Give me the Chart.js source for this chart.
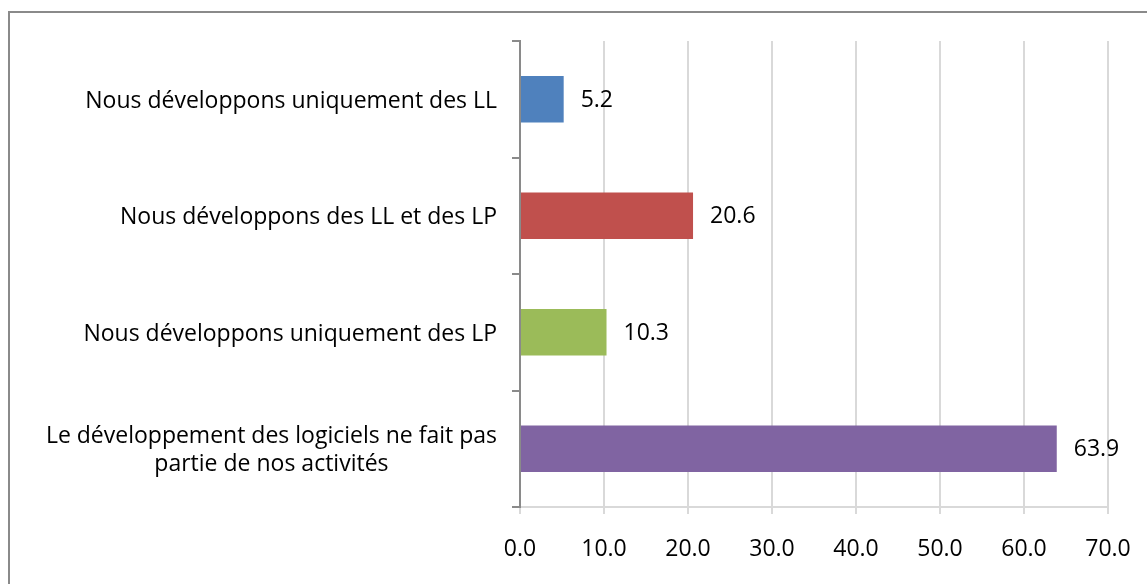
<!DOCTYPE html>
<html lang="fr">
<head>
<meta charset="utf-8">
<title>Développement de logiciels</title>
<script src="https://cdn.jsdelivr.net/npm/chart.js@4"></script>
<style>
    html, body { margin: 0; padding: 0; background: #fff; overflow: hidden; }
    .cadre {
        position: absolute;
        left: 8px; top: 11px;
        width: 1300px; height: 700px;
        border: 2px solid #8a8a8a;
    }
    #chart { position: absolute; left: 0; top: 0; }
</style>
</head>
<body>
<div class="cadre"></div>
<canvas id="chart" width="1147" height="584"></canvas>
<script>
// Données
const categories = [
    'Nous développons uniquement des LL',
    'Nous développons des LL et des LP',
    'Nous développons uniquement des LP',
    ['Le développement des logiciels ne fait pas', 'partie de nos activités']
];
const valeurs = [5.2, 20.6, 10.3, 63.9];
const ticksX = [0, 10, 20, 30, 40, 50, 60, 70];

const couleurs = ['#4f81bd', '#c0504d', '#9bbb59', '#8064a2'];
const police = '"Open Sans", "DejaVu Sans", sans-serif';
const taille = 23;

// Étiquettes de l'axe Y (lignes centrées entre elles, bloc aligné à droite)
const etiquettesY = {
    id: 'etiquettesY',
    afterDraw(chart) {
        const ctx = chart.ctx;
        const y = chart.scales.y;
        const droite = chart.chartArea.left - 23;
        const interligne = 28;
        ctx.save();
        ctx.font = taille + 'px ' + police;
        ctx.fillStyle = '#000';
        ctx.textAlign = 'center';
        ctx.textBaseline = 'middle';
        categories.forEach((cat, i) => {
            const lignes = Array.isArray(cat) ? cat : [cat];
            const largeur = Math.max(...lignes.map(l => ctx.measureText(l).width));
            const cx = droite - largeur / 2;
            const cy = y.getPixelForValue(i) + 2;
            lignes.forEach((l, j) => {
                ctx.fillText(l, cx, cy + (j - (lignes.length - 1) / 2) * interligne);
            });
        });
        ctx.restore();
    }
};

// Valeurs au bout des barres
const valeursBarres = {
    id: 'valeursBarres',
    afterDatasetsDraw(chart) {
        const ctx = chart.ctx;
        const meta = chart.getDatasetMeta(0);
        ctx.save();
        ctx.font = taille + 'px ' + police;
        ctx.fillStyle = '#000';
        ctx.textAlign = 'left';
        ctx.textBaseline = 'middle';
        meta.data.forEach((bar, i) => {
            ctx.fillText(valeurs[i].toFixed(1), bar.x + 17, bar.y + 1);
        });
        ctx.restore();
    }
};

new Chart(document.getElementById('chart'), {
    type: 'bar',
    data: {
        labels: categories,
        datasets: [{
            data: valeurs,
            backgroundColor: couleurs,
            borderWidth: 0,
            barPercentage: 1,
            categoryPercentage: 0.4
        }]
    },
    options: {
        indexAxis: 'y',
        responsive: false,
        animation: false,
        layout: { padding: { top: 41, right: 39, left: 0, bottom: 0 } },
        plugins: {
            legend: { display: false },
            tooltip: { enabled: false }
        },
        scales: {
            x: {
                min: 0,
                max: 70,
                afterBuildTicks: axis => { axis.ticks = ticksX.map(v => ({ value: v })); },
                afterFit: axis => {
                    axis.height = 77;
                    axis.paddingLeft = 0;
                    axis.paddingRight = 0;
                },
                grid: {
                    color: '#d9d9d9',
                    lineWidth: 2,
                    drawTicks: true,
                    tickLength: 7
                },
                border: { color: '#d9d9d9', width: 2 },
                ticks: {
                    color: '#000',
                    padding: 22,
                    font: { family: police, size: taille },
                    callback: v => Number(v).toFixed(1)
                }
            },
            y: {
                afterFit: axis => { axis.width = 520; },
                grid: {
                    drawOnChartArea: false,
                    offset: true,
                    color: '#8a8a8a',
                    lineWidth: 2,
                    tickLength: 8
                },
                border: { color: '#8a8a8a', width: 2 },
                ticks: { display: false }
            }
        }
    },
    plugins: [etiquettesY, valeursBarres]
});
</script>
</body>
</html>
